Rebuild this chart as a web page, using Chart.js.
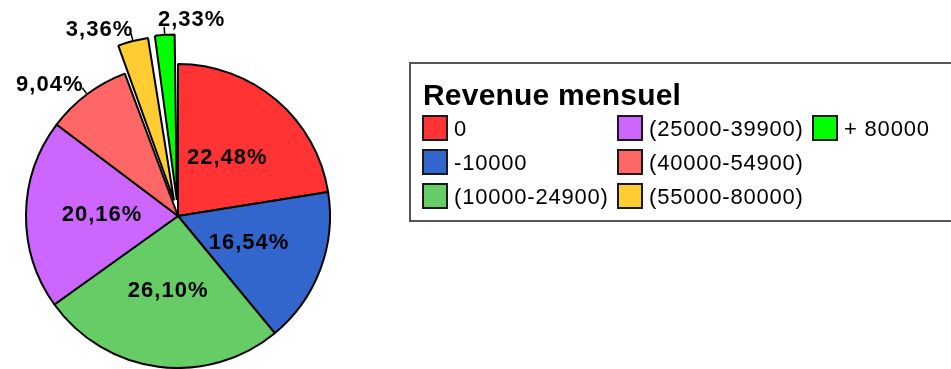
<!DOCTYPE html>
<html>
<head>
<meta charset="utf-8">
<title>Revenue mensuel</title>
<script src="https://cdn.jsdelivr.net/npm/chart.js@4.4.1/dist/chart.umd.min.js"></script>
<style>
  html, body { margin: 0; padding: 0; background: #fff; overflow: hidden; }
  #wrap { position: relative; width: 951px; height: 369px; overflow: hidden; }
  #pie { position: absolute; left: 0; top: 0; }
  #legend {
    position: absolute; left: 409px; top: 62px;
    width: 700px; height: 160px;
    border: 2px solid #555; box-sizing: border-box;
    font-family: "Liberation Sans", Arial, sans-serif; color: #000;
  }
  #legend .title {
    position: absolute; left: 12px; top: 16px;
    font-weight: bold; font-size: 30px; line-height: 30px; letter-spacing: 0.2px;
  }
  #legend .items {
    position: absolute; left: 11px; top: 51px;
    display: grid; grid-auto-flow: column;
    grid-template-rows: repeat(3, 34px);
    grid-template-columns: repeat(3, 195px);
  }
  #legend .item { display: flex; align-items: flex-start; height: 26px; }
  #legend .box {
    width: 26px; height: 26px; box-sizing: border-box;
    border: 2px solid #1a1a1a; flex: none;
  }
  #legend .txt {
    margin-left: 6px; font-size: 22px; line-height: 26px;
    letter-spacing: 0.8px; white-space: nowrap; padding-top: 1px;
  }
</style>
</head>
<body>
<div id="wrap">
  <canvas id="pie" width="951" height="369"></canvas>
  <div id="legend">
    <div class="title">Revenue mensuel</div>
    <div class="items" id="items"></div>
  </div>
</div>
<script>
// monthly revenue brackets and their share of respondents (%)
const categories = ['0', '-10000', '(10000-24900)', '(25000-39900)', '(40000-54900)', '(55000-80000)', '+ 80000'];
const shares = [22.48, 16.54, 26.10, 20.16, 9.04, 3.36, 2.33];
const palette = ['#ff3333', '#3366cc', '#66cc66', '#cc66ff', '#ff6666', '#ffcc33', '#00ff00'];

// small slices are pulled out of the pie
const pulled = shares.map(v => v < 5 ? 64 : 0);

function fmt(v) {
  return v.toFixed(2).replace('.', ',') + '%';
}

// percentage labels: inside for big slices, outside with a short tick for small ones
const pctLabels = {
  id: 'pctLabels',
  afterDatasetsDraw(chart) {
    const ctx = chart.ctx;
    const meta = chart.getDatasetMeta(0);
    ctx.save();
    ctx.font = 'bold 22px "Liberation Sans", Arial, sans-serif';
    ctx.letterSpacing = '1px';
    ctx.fillStyle = '#000';
    ctx.strokeStyle = '#000';
    ctx.lineWidth = 1.5;
    ctx.textBaseline = 'middle';
    meta.data.forEach((arc, i) => {
      const text = fmt(shares[i]);
      if (shares[i] >= 10) {
        const p = arc.tooltipPosition(true);
        ctx.textAlign = 'center';
        ctx.fillText(text, p.x, p.y);
        return;
      }
      const {x, y, startAngle, endAngle, outerRadius} =
        arc.getProps(['x', 'y', 'startAngle', 'endAngle', 'outerRadius'], true);
      const mid = (startAngle + endAngle) / 2;
      const dx = Math.cos(mid), dy = Math.sin(mid);
      // same shift and growth the arc element applies for its offset
      const shift = (arc.options.offset || 0) / 4;
      const grow = shift * (1 - Math.sin(Math.min(Math.PI, endAngle - startAngle)));
      const edge = outerRadius + shift + grow;
      ctx.beginPath();
      ctx.moveTo(x + dx * (edge + 1), y + dy * (edge + 1));
      ctx.lineTo(x + dx * (edge + 8), y + dy * (edge + 8));
      ctx.stroke();
      const r = edge + 11;
      const leftSide = dx < -0.15;
      ctx.textAlign = leftSide ? 'right' : 'left';
      const tx = x + dx * r + (leftSide ? 3 : -6);
      ctx.fillText(text, tx, y + dy * r - (leftSide ? 0 : 4));
    });
    ctx.restore();
  }
};

new Chart('pie', {
  type: 'pie',
  data: {
    labels: categories,
    datasets: [{
      data: shares,
      backgroundColor: palette,
      borderColor: '#000',
      borderWidth: 2,
      offset: pulled,
      radius: 152,
      clip: false
    }]
  },
  options: {
    responsive: false,
    animation: false,
    events: [],
    layout: { padding: { left: 0, right: 595, top: 63, bottom: 0 } },
    plugins: {
      legend: { display: false },
      tooltip: { enabled: false }
    }
  },
  plugins: [pctLabels]
});

// legend box, filled column by column
const items = document.getElementById('items');
categories.forEach((name, i) => {
  const item = document.createElement('div');
  item.className = 'item';
  const box = document.createElement('span');
  box.className = 'box';
  box.style.background = palette[i];
  const txt = document.createElement('span');
  txt.className = 'txt';
  txt.textContent = name;
  item.appendChild(box);
  item.appendChild(txt);
  items.appendChild(item);
});
</script>
</body>
</html>
